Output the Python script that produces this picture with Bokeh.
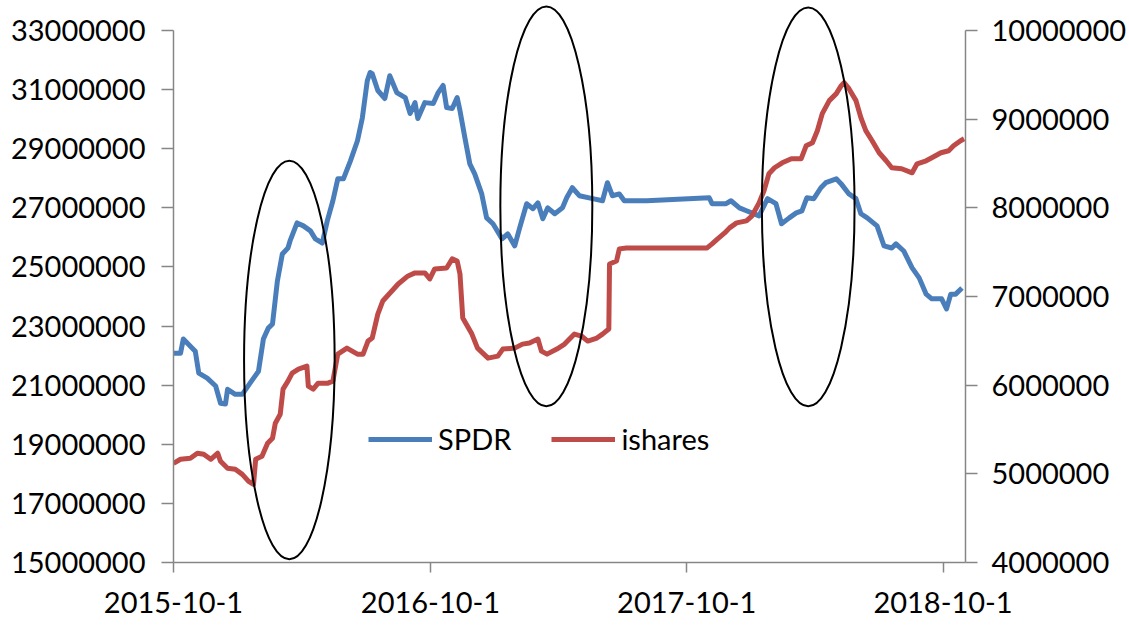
import pandas as pd
from bokeh.plotting import figure
from bokeh.models import (Range1d, LinearAxis, FixedTicker, NumeralTickFormatter,
                          Legend, LegendItem)
from bokeh.embed import file_html
from bokeh.resources import INLINE

# ---------------- data ----------------
START = "2015-10-01"
X_END = "2018-11-02"
x_tick_dates = ["2015-10-01", "2016-10-01", "2017-10-01", "2018-10-01"]
x_tick_labels = ["2015-10-1", "2016-10-1", "2017-10-1", "2018-10-1"]
left_ticks = [15000000, 17000000, 19000000, 21000000, 23000000, 25000000,
              27000000, 29000000, 31000000, 33000000]
right_ticks = [4000000, 5000000, 6000000, 7000000, 8000000, 9000000, 10000000]

# days since START
spdr_day = [0, 10, 14, 24, 31, 36, 48, 60, 67, 74, 77, 88, 98, 109, 121, 128, 135, 141, 148, 155,
            163, 166, 176, 185, 195, 202, 212, 219, 227, 234, 242, 252, 262, 269, 276, 280, 283, 291, 301, 308,
            318, 330, 337, 344, 348, 358, 370, 377, 384, 389, 397, 404, 408, 415, 422, 429, 439, 446, 455, 468,
            476, 486, 493, 503, 512, 519, 526, 533, 543, 554, 560, 568, 578, 597, 611, 618, 625, 635, 642, 674,
            763, 767, 787, 794, 806, 816, 834, 846, 858, 866, 877, 887, 895, 902, 912, 922, 929, 944, 951, 962,
            972, 979, 988, 1002, 1012, 1023, 1029, 1040, 1052, 1062, 1072, 1080, 1094, 1101, 1107, 1114, 1123]
spdr_val = [22080000, 22080000, 22560000, 22320000, 22150000, 21410000, 21240000, 20970000, 20390000, 20360000,
            20860000, 20690000, 20690000, 21070000, 21470000, 22560000, 22930000, 23070000, 24530000, 25440000,
            25640000, 25880000, 26490000, 26390000, 26220000, 25950000, 25810000, 26560000, 27240000, 27980000,
            27980000, 28590000, 29270000, 30050000, 31300000, 31580000, 31540000, 30970000, 30700000, 31470000,
            30900000, 30730000, 30190000, 30560000, 30020000, 30560000, 30530000, 30900000, 31140000, 30390000,
            30360000, 30730000, 30290000, 29370000, 28490000, 28150000, 27470000, 26660000, 26460000, 25950000,
            26120000, 25710000, 26320000, 27140000, 26970000, 27170000, 26630000, 27000000, 26800000, 27000000,
            27340000, 27680000, 27410000, 27310000, 27240000, 27850000, 27410000, 27470000, 27240000, 27240000,
            27340000, 27140000, 27140000, 27240000, 27000000, 26900000, 26730000, 27310000, 27140000, 26460000,
            26660000, 26830000, 26900000, 27340000, 27310000, 27680000, 27850000, 27980000, 27810000, 27470000,
            27310000, 26800000, 26660000, 26390000, 25710000, 25640000, 25780000, 25540000, 24970000, 24630000,
            24080000, 23920000, 23920000, 23580000, 24080000, 24080000, 24290000]

ishares_day = [0, 10, 24, 34, 43, 53, 63, 67, 77, 88, 98, 107, 114, 117, 126, 134, 141, 145, 152, 156,
               163, 169, 178, 190, 192, 199, 206, 220, 227, 234, 247, 262, 270, 277, 283, 291, 298, 311, 320, 334,
               344, 358, 365, 372, 389, 397, 404, 408, 412, 425, 433, 448, 462, 469, 486, 497, 507, 519, 524, 532,
               546, 557, 571, 581, 590, 603, 611, 620, 621, 631, 635, 645, 760, 767, 775, 785, 792, 802, 816, 824,
               834, 841, 848, 856, 867, 880, 894, 901, 910, 917, 924, 934, 944, 951, 955, 962, 972, 979, 986, 995,
               1005, 1015, 1023, 1037, 1052, 1059, 1072, 1080, 1093, 1104, 1111, 1121, 1126]
ishares_val = [5119000, 5164000, 5175000, 5232000, 5220000, 5164000, 5232000, 5141000, 5062000, 5051000,
               4994000, 4915000, 4881000, 5164000, 5198000, 5345000, 5401000, 5571000, 5672000, 5955000,
               6045000, 6136000, 6181000, 6215000, 5989000, 5955000, 6023000, 6023000, 6045000, 6350000,
               6418000, 6350000, 6350000, 6497000, 6531000, 6802000, 6949000, 7062000, 7141000, 7232000,
               7266000, 7266000, 7198000, 7311000, 7322000, 7424000, 7401000, 7254000, 6757000, 6576000,
               6418000, 6305000, 6328000, 6407000, 6418000, 6463000, 6475000, 6520000, 6384000, 6350000,
               6407000, 6463000, 6576000, 6554000, 6497000, 6531000, 6576000, 6633000, 7367000, 7401000,
               7537000, 7548000, 7548000, 7593000, 7650000, 7717000, 7774000, 7830000, 7853000, 7910000,
               8056000, 8192000, 8384000, 8452000, 8508000, 8554000, 8554000, 8700000, 8734000, 8870000,
               9062000, 9209000, 9288000, 9378000, 9412000, 9344000, 9209000, 9017000, 8870000, 8757000,
               8621000, 8531000, 8452000, 8441000, 8395000, 8497000, 8531000, 8565000, 8621000, 8644000,
               8700000, 8757000, 8779000]

# highlighted periods (ellipses), left-axis units
ellipse_day = [165, 531, 904]
ellipse_val = [21850000, 27050000, 27030000]
ellipse_width_days = [129, 131, 132]
ellipse_height_val = [13490000, 13530000, 13490000]

# ---------------- helpers ----------------
start = pd.Timestamp(START)
DAY_MS = 86400000.0


def to_ms(ts):
    return pd.Timestamp(ts).value / 1e6


def days_to_ms(days):
    return [to_ms(start) + d * DAY_MS for d in days]


BLUE = "#4A7EBB"
RED = "#BE4B48"
AXIS = "#868686"
FONT = "Lato"
FS = "29px"

W, H = 1129, 626
top_extra = 26.0 / 532.0  # room above the top tick for the ellipses

p = figure(width=W, height=H, output_backend="svg", toolbar_location=None, title=None,
           x_range=Range1d(to_ms(START), to_ms(X_END)),
           y_range=Range1d(left_ticks[0], left_ticks[-1] + (left_ticks[-1] - left_ticks[0]) * top_extra),
           min_border_left=173, min_border_right=162, min_border_top=4, min_border_bottom=64)
p.extra_y_ranges = {"right": Range1d(right_ticks[0],
                                     right_ticks[-1] + (right_ticks[-1] - right_ticks[0]) * top_extra)}
p.outline_line_color = None
p.grid.visible = False
p.background_fill_color = "white"
p.border_fill_color = "white"

# x axis
xt = [to_ms(d) for d in x_tick_dates]
p.xaxis.ticker = FixedTicker(ticks=xt)
p.xaxis.major_label_overrides = {t: l for t, l in zip(xt, x_tick_labels)}
p.xaxis.bounds = (to_ms(START), to_ms(X_END))

# left axis
p.yaxis.ticker = FixedTicker(ticks=left_ticks)
p.yaxis.formatter = NumeralTickFormatter(format="0")
p.yaxis.bounds = (left_ticks[0], left_ticks[-1])

# right axis
ra = LinearAxis(y_range_name="right", ticker=FixedTicker(ticks=right_ticks),
                formatter=NumeralTickFormatter(format="0"), bounds=(right_ticks[0], right_ticks[-1]))
p.add_layout(ra, "right")

for ax in [p.xaxis[0], p.yaxis[0], ra]:
    ax.axis_line_color = AXIS
    ax.axis_line_width = 1.5
    ax.major_tick_line_color = AXIS
    ax.major_tick_line_width = 1.5
    ax.major_tick_in = 0
    ax.minor_tick_line_color = None
    ax.major_label_text_font = FONT
    ax.major_label_text_font_size = FS
    ax.major_label_text_color = "black"

p.xaxis.major_tick_out = 10
p.xaxis.major_label_standoff = 19
p.yaxis.major_tick_out = 12
p.yaxis.major_label_standoff = 16
ra.major_tick_out = 12
ra.major_label_standoff = 14

r1 = p.line(days_to_ms(spdr_day), spdr_val, line_color=BLUE, line_width=5, line_join="round")
r2 = p.line(days_to_ms(ishares_day), ishares_val, line_color=RED, line_width=5, line_join="round",
            y_range_name="right")

p.ellipse(x=days_to_ms(ellipse_day), y=ellipse_val,
          width=[w * DAY_MS for w in ellipse_width_days], height=ellipse_height_val,
          fill_color=None, line_color="black", line_width=2)

legend = Legend(items=[LegendItem(label="SPDR", renderers=[r1]),
                       LegendItem(label="ishares", renderers=[r2])],
                orientation="horizontal", location=(195, 106),
                border_line_color=None, background_fill_alpha=0,
                padding=0, margin=0, spacing=40,
                glyph_width=64, glyph_height=30, label_height=30, label_standoff=6,
                label_text_font=FONT, label_text_font_size=FS, label_text_color="black")
p.add_layout(legend)

open("out.html", "w").write(file_html(p, INLINE))
